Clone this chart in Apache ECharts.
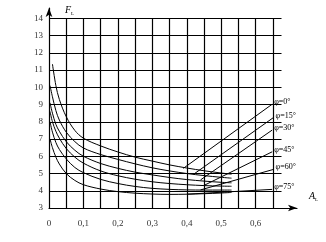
<!DOCTYPE html>
<html><head><meta charset="utf-8">
<script src="https://cdn.jsdelivr.net/npm/echarts@6/dist/echarts.min.js"></script>
<style>html,body{margin:0;padding:0;background:#fff}#c{width:326px;height:242px}</style>
</head><body><div id="c"></div>
<script>
// Data
const aValues = [0.003, 0.01, 0.02, 0.03, 0.05, 0.075, 0.1, 0.15, 0.2, 0.25, 0.3, 0.35, 0.4, 0.45, 0.5, 0.53];
const phi0  = [null, 11.35, 10.1, 9.3, 8.3, 7.5, 7.05, 6.6, 6.25, 5.95, 5.72, 5.5, 5.32, 5.16, 5.03, 4.96];
const phi15 = [10.1, 9.45, 8.65, 8.1, 7.4, 6.85, 6.48, 6.1, 5.82, 5.56, 5.33, 5.15, 5.0, 4.88, 4.78, 4.73];
const phi30 = [9.1, 8.5, 7.85, 7.45, 6.85, 6.35, 6.0, 5.58, 5.3, 5.08, 4.92, 4.77, 4.65, 4.56, 4.49, 4.46];
const phi45 = [8.6, 8.0, 7.45, 7.05, 6.45, 5.95, 5.6, 5.15, 4.87, 4.67, 4.52, 4.42, 4.35, 4.3, 4.27, 4.26];
const phi60 = [8.0, 7.4, 6.8, 6.4, 5.85, 5.35, 5.05, 4.66, 4.42, 4.25, 4.14, 4.08, 4.05, 4.04, 4.04, 4.04];
const phi75 = [7.0, 6.5, 5.95, 5.55, 5.0, 4.6, 4.35, 4.1, 3.95, 3.86, 3.81, 3.79, 3.8, 3.83, 3.87, 3.9];
const curveNames = ['φ=0°', 'φ=15°', 'φ=30°', 'φ=45°', 'φ=60°', 'φ=75°'];
// leader lines (label annotations)
const leaderStartA = [0.39, 0.42, 0.44, 0.45, 0.44, 0.40];
const leaderStartF = [5.3, 4.96, 4.63, 4.31, 4.05, 3.8];
const leaderEndA = [0.648, 0.652, 0.648, 0.648, 0.652, 0.648];
const leaderEndF = [9.02, 8.25, 7.52, 6.26, 5.24, 4.08];
// grid
const xGridValues = [0.05, 0.1, 0.15, 0.2, 0.25, 0.3, 0.35, 0.4, 0.45, 0.5, 0.55, 0.6, 0.65];
const yGridValues = [4, 5, 6, 7, 8, 9, 10, 11, 12, 13, 14];
const yGridTop = 14, yGridBottom = 3, xGridRight = 0.675;

const curves = [phi0, phi15, phi30, phi45, phi60, phi75];
const font = 'Liberation Serif, DejaVu Serif, serif';
const series = [];
const gridLines = [];
xGridValues.forEach(x => gridLines.push([{coord: [x, yGridBottom]}, {coord: [x, yGridTop]}]));
yGridValues.forEach(v => gridLines.push([{coord: [0, v]}, {coord: [xGridRight, v]}]));
series.push({
  type: 'line', data: [], silent: true,
  markLine: {silent: true, symbol: 'none', animation: false, label: {show: false},
    lineStyle: {color: '#000', width: 1.2, type: 'solid'}, data: gridLines}
});
curves.forEach((c, i) => {
  series.push({
    type: 'line', name: curveNames[i], smooth: 0.35, showSymbol: false,
    animation: false, lineStyle: {color: '#000', width: 1},
    data: aValues.map((a, j) => [a, c[j]])
  });
  series.push({
    type: 'line', showSymbol: false, symbol: 'none', animation: false,
    lineStyle: {color: '#000', width: 1},
    endLabel: {show: true, distance: 2, offset: [0, -2], formatter: curveNames[i],
      fontFamily: font, fontSize: 8, color: '#000'},
    data: [[leaderStartA[i], leaderStartF[i]], [leaderEndA[i], leaderEndF[i]]]
  });
});

const chart = echarts.init(document.getElementById('c'));
chart.setOption({
  animation: false,
  grid: {left: 49, right: 29, top: 8, bottom: 34},
  xAxis: {
    type: 'value', min: 0, max: 0.72, interval: 0.1,
    axisLine: {lineStyle: {color: '#000', width: 1.2}, symbol: ['none', 'arrow'], symbolSize: [5, 9]},
    axisTick: {show: false}, splitLine: {show: false},
    axisLabel: {margin: 11, fontFamily: font, fontSize: 9, color: '#333',
      formatter: v => v > 0.65 ? '' : String(Math.round(v * 10) / 10).replace('.', ',')},
    name: '{i|A}{s|L}', nameLocation: 'end', nameGap: 12,
    nameTextStyle: {verticalAlign: 'bottom', padding: [0, 0, 6, 0],
      rich: {i: {fontFamily: font, fontStyle: 'italic', fontSize: 10, color: '#000'},
             s: {fontFamily: font, fontSize: 5, color: '#000', padding: [6, 0, 0, 0]}}}
  },
  yAxis: {
    type: 'value', min: 3, max: 14.6, interval: 1,
    axisLine: {lineStyle: {color: '#000', width: 1.2}, symbol: ['none', 'arrow'], symbolSize: [5, 9]},
    axisTick: {show: false},
    splitLine: {show: false},
    axisLabel: {margin: 6, fontFamily: font, fontSize: 9, color: '#333',
      formatter: v => (v > 14 || Math.abs(v - Math.round(v)) > 1e-6) ? '' : String(Math.round(v))},
    name: '{i|F}{s|L}', nameLocation: 'end', nameGap: -8,
    nameTextStyle: {align: 'left', padding: [0, 0, 0, 16],
      rich: {i: {fontFamily: font, fontStyle: 'italic', fontSize: 10, color: '#000'},
             s: {fontFamily: font, fontSize: 5, color: '#000', padding: [6, 0, 0, 0]}}}
  },
  series: series
});
</script></body></html>
